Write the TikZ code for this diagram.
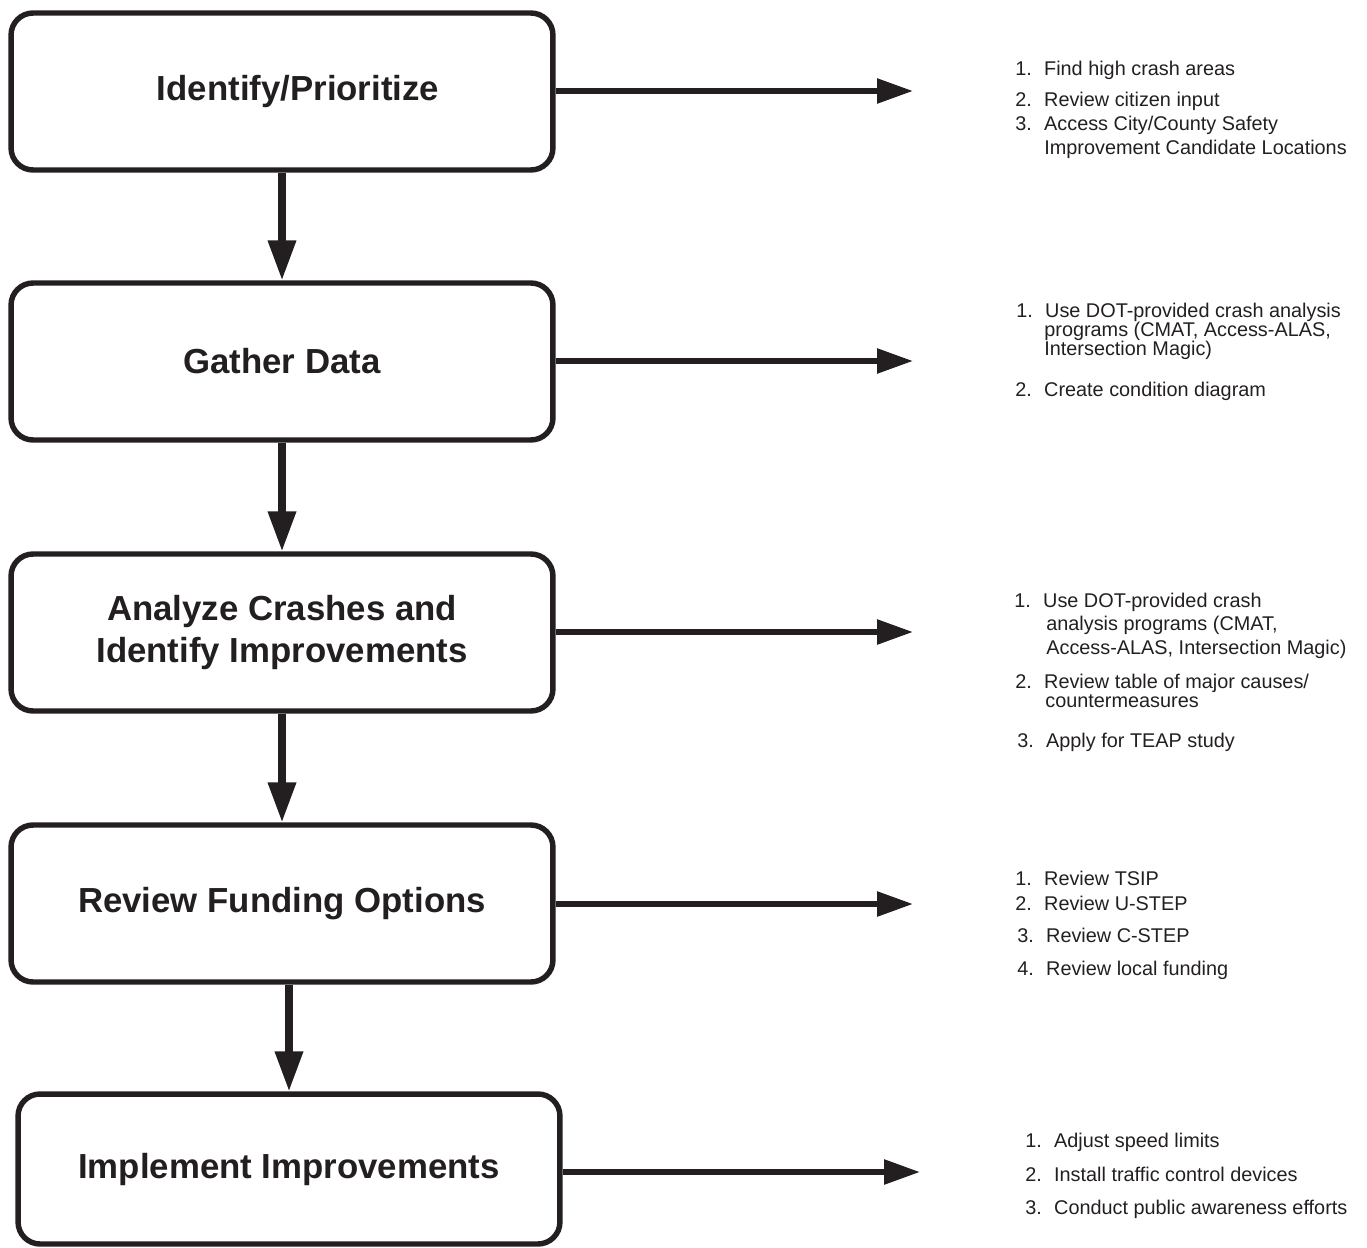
\documentclass[tikz,border=0pt]{standalone}
\usepackage{fontspec}
\setmainfont{Liberation Sans}
\usetikzlibrary{arrows.meta}
\definecolor{inkblack}{RGB}{35,31,32}
\newcommand{\itemno}[1]{\makebox[16.4pt][l]{#1}}

\begin{document}
\begin{tikzpicture}[x=0.02cm,y=-0.02cm,
    stepbox/.style={draw=inkblack, line width=3.1pt, rounded corners=0.44cm,
      minimum width=10.84cm, minimum height=3.14cm, inner sep=0pt, align=center,
      text=inkblack, font=\fontsize{19.8}{23.8}\selectfont\bfseries},
    downarrow/.style={draw=inkblack, line width=4pt, -{Triangle[length=22.7pt,width=15.3pt]}},
    sidearrow/.style={draw=inkblack, line width=3.2pt, -{Triangle[length=20.4pt,width=13.6pt]}},
    listline/.style={anchor=base west, inner sep=0pt, text=inkblack,
      font=\fontsize{11.3}{13.6}\selectfont}]
    \useasboundingbox (0,0) rectangle (1367,1248);

    % Steps
    \node[stepbox] (ident) at (282,91.5) {\hspace*{0.64cm}Identify/Prioritize};
    \node[stepbox] (gather) at (282,361.5) {Gather Data};
    \node[stepbox] (analyze) at (282,632.5) {Analyze Crashes and\\Identify Improvements};
    \node[stepbox] (funding) at (282,903.5) {Review Funding Options};
    \node[stepbox, minimum height=3cm] (implement) at (289,1169) {Implement Improvements};

    % Arrows between steps
    \draw[downarrow] (ident.south) -- (gather.north);
    \draw[downarrow] (gather.south) -- (analyze.north);
    \draw[downarrow] (analyze.south) -- (funding.north);
    \draw[downarrow] (funding.south -| implement.north) -- (implement.north);

    % Ends of the side arrows
    \coordinate (identend) at (913,91);
    \coordinate (gatherend) at (913,361);
    \coordinate (analyzeend) at (913,632);
    \coordinate (fundingend) at (913,904);
    \coordinate (implementend) at (920,1172);

    \draw[sidearrow] (ident.east |- identend) -- (identend);
    \draw[sidearrow] (gather.east |- gatherend) -- (gatherend);
    \draw[sidearrow] (analyze.east |- analyzeend) -- (analyzeend);
    \draw[sidearrow] (funding.east |- fundingend) -- (fundingend);
    \draw[sidearrow] (implement.east |- implementend) -- (implementend);

    % Identify/Prioritize list
    \node[listline] (ident1) at (1015,75) {\itemno{1.}Find high crash areas};
    \node[listline] (ident2) at (1015,106) {\itemno{2.}Review citizen input};
    \node[listline] (ident3) at (1015,130) {\itemno{3.}Access City/County Safety};
    \node[listline] (ident3b) at (1044,154) {Improvement Candidate Locations};

    % Gather Data list
    \node[listline] (gather1) at (1016,317) {\itemno{1.}Use DOT-provided crash analysis};
    \node[listline] (gather1b) at (1044,336) {programs (CMAT, Access-ALAS,};
    \node[listline] (gather1c) at (1044,355) {Intersection Magic)};
    \node[listline] (gather2) at (1015,396) {\itemno{2.}Create condition diagram};

    % Analyze list
    \node[listline] (analyze1) at (1014,607) {\itemno{1.}Use DOT-provided crash};
    \node[listline] (analyze1b) at (1046,630) {analysis programs (CMAT,};
    \node[listline] (analyze1c) at (1046,654) {Access-ALAS, Intersection Magic)};
    \node[listline] (analyze2) at (1015,688) {\itemno{2.}Review table of major causes/};
    \node[listline] (analyze2b) at (1045,707) {countermeasures};
    \node[listline] (analyze3) at (1017,747) {\itemno{3.}Apply for TEAP study};

    % Funding list
    \node[listline] (funding1) at (1015,885) {\itemno{1.}Review TSIP};
    \node[listline] (funding2) at (1015,910) {\itemno{2.}Review U-STEP};
    \node[listline] (funding3) at (1017,942) {\itemno{3.}Review C-STEP};
    \node[listline] (funding4) at (1017,975) {\itemno{4.}Review local funding};

    % Implement list
    \node[listline] (implement1) at (1025,1147) {\itemno{1.}Adjust speed limits};
    \node[listline] (implement2) at (1025,1181) {\itemno{2.}Install traffic control devices};
    \node[listline] (implement3) at (1025,1214) {\itemno{3.}Conduct public awareness efforts};
\end{tikzpicture}
\end{document}
